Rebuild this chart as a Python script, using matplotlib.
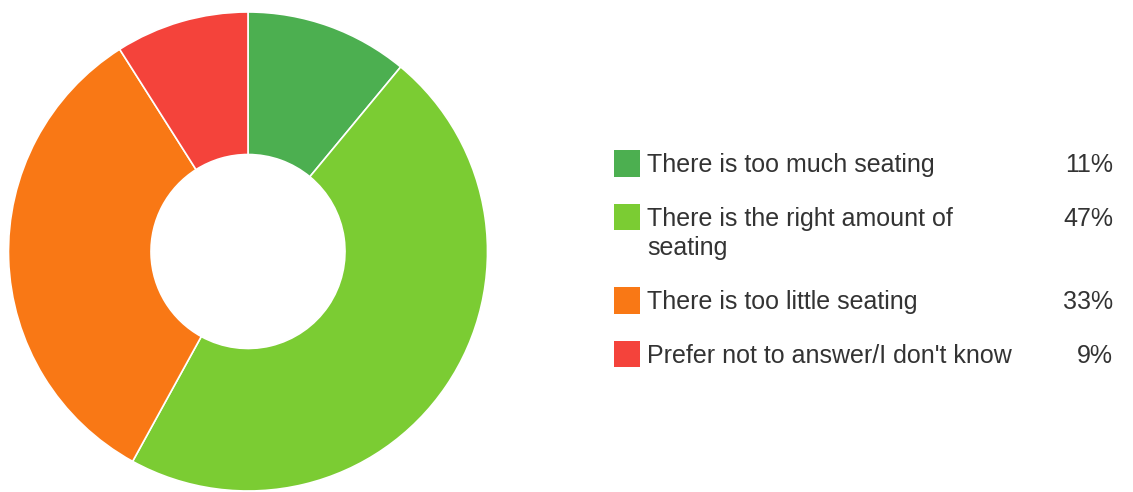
import matplotlib
matplotlib.use("Agg")
import matplotlib.pyplot as plt
from matplotlib.patches import Rectangle

categories = ["There is too much seating",
              "There is the right amount of\nseating",
              "There is too little seating",
              "Prefer not to answer/I don't know"]
values = [11, 47, 33, 9]
pct_labels = ["11%", "47%", "33%", "9%"]
colors = ["#4CAF50", "#7BCC33", "#F97815", "#F4433B"]

W, H = 1133, 492
fig = plt.figure(figsize=(W / 100, H / 100), dpi=100)
fig.patch.set_facecolor("white")

# Donut
cx, cy, r = 248, 251.5, 239.5
ax = fig.add_axes([(cx - r) / W, (H - cy - r) / H, 2 * r / W, 2 * r / H])
ax.pie(values, colors=colors, startangle=90, counterclock=False, radius=1.0,
       wedgeprops=dict(width=0.595, edgecolor="white", linewidth=1.2))
ax.set_xlim(-1, 1)
ax.set_ylim(-1, 1)
ax.set_aspect("equal")
ax.axis("off")

# Legend
lax = fig.add_axes([0, 0, 1, 1])
lax.set_xlim(0, W)
lax.set_ylim(H, 0)
lax.axis("off")
font = "Liberation Sans"
fs = 18
text_color = "#333333"
sq_tops = [150, 203.5, 287, 340.5]
sq = 26.5
line_gap = 29
for cat, pct, col, top in zip(categories, pct_labels, colors, sq_tops):
    lax.add_patch(Rectangle((613.5, top), sq, sq, facecolor=col, edgecolor="none"))
    base = top + sq / 2 + 9
    for i, line in enumerate(cat.split("\n")):
        lax.text(647, base + i * line_gap, line, fontsize=fs, family=font,
                 color=text_color, ha="left", va="baseline")
    lax.text(1113, base, pct, fontsize=fs, family=font, color=text_color,
             ha="right", va="baseline")

fig.savefig("out.png", dpi=100, facecolor="white")
